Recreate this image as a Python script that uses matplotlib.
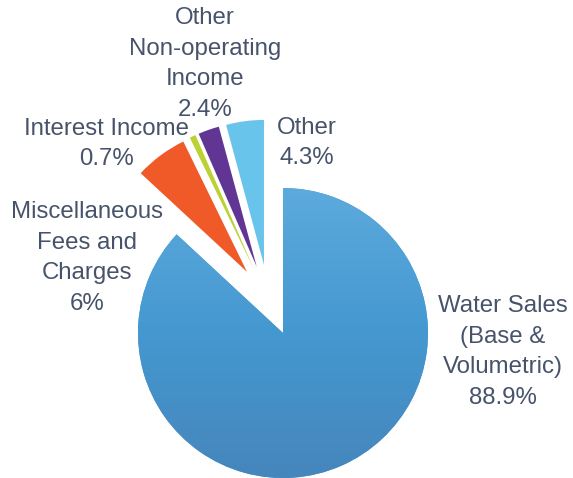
import numpy as np
import matplotlib
matplotlib.use("Agg")
import matplotlib.pyplot as plt
from matplotlib.colors import LinearSegmentedColormap

# Revenue sources and their shares (percent)
categories = [
    "Water Sales\n(Base &\nVolumetric)",
    "Miscellaneous\nFees and\nCharges",
    "Interest Income",
    "Other\nNon-operating\nIncome",
    "Other",
]
shares = [88.9, 6, 0.7, 2.4, 4.3]
colors = ["#4A9BD2", "#F05A28", "#BDD135", "#603594", "#69C4EC"]
water_gradient = ["#5DAADD", "#4498D0", "#4686BC"]

TEXT = "#47536A"
W, H = 573, 478
R = 145

fig = plt.figure(figsize=(W / 100, H / 100), dpi=100)
ax = fig.add_axes([0, 0, 1, 1])

main_center = (283, H - 333)
small_center = (268.8, H - 301.2)
pull = 36.6

# Large slice (drawn on its own centre)
main_wedges, _ = ax.pie(
    shares, radius=R, center=main_center, startangle=90, counterclock=False,
    colors=colors, wedgeprops=dict(linewidth=0), frame=True,
)
for w in main_wedges[1:]:
    w.set_visible(False)

# Vertical gradient fill for the large slice
grad = np.linspace(0, 1, 256).reshape(-1, 1)
cmap = LinearSegmentedColormap.from_list("water", water_gradient)
cx, cy = main_center
im = ax.imshow(grad, extent=(cx - R, cx + R, cy - R, cy + R), origin="upper",
               cmap=cmap, aspect="auto", zorder=main_wedges[0].get_zorder() + 0.1)
im.set_clip_path(main_wedges[0])

# Small slices pulled out of the pie
small_wedges, _ = ax.pie(
    shares, radius=R, center=small_center, startangle=90, counterclock=False,
    colors=colors, explode=[0] + [pull] * 4,
    wedgeprops=dict(linewidth=0), frame=True,
)
small_wedges[0].set_visible(False)

# Labels
label_pos = [(503, 352), (87, 258), (106, 144), (205, 64), (307, 143)]
for name, v, (x, y) in zip(categories, shares, label_pos):
    ax.text(x, H - y, f"{name}\n{v:g}%", ha="center", va="center",
            multialignment="center", fontsize=17.3, color=TEXT,
            linespacing=1.52, family="Liberation Sans")

ax.set_xlim(0, W)
ax.set_ylim(0, H)
ax.set_aspect("equal")
ax.axis("off")

fig.savefig("out.png", dpi=100)
